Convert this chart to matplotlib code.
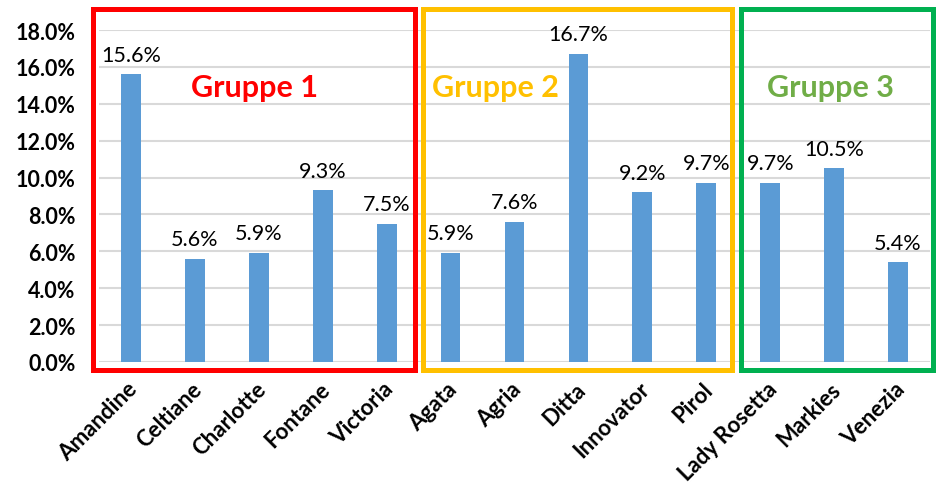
import numpy as np
import matplotlib.pyplot as plt
from matplotlib.patches import Rectangle
from matplotlib.ticker import FuncFormatter
from matplotlib.transforms import ScaledTranslation

plt.rcParams['font.family'] = ['Lato', 'DejaVu Sans']

# Sorten und Anteile (%)
sorten = ['Amandine', 'Celtiane', 'Charlotte', 'Fontane', 'Victoria',
          'Agata', 'Agria', 'Ditta', 'Innovator', 'Pirol',
          'Lady Rosetta', 'Markies', 'Venezia']
anteile = [15.6, 5.6, 5.9, 9.3, 7.5,
           5.9, 7.6, 16.7, 9.2, 9.7,
           9.7, 10.5, 5.4]

gruppen = ['Gruppe 1', 'Gruppe 2', 'Gruppe 3']
gruppen_farbe = ['#FF0000', '#FFC000', '#00B050']
gruppen_text = ['#FF0000', '#FFC000', '#70AD47']

W, H = 941, 485
fig = plt.figure(figsize=(W / 100, H / 100), dpi=100)


def fx(px):
    return px / W


def fy(py):
    return 1 - py / H


ax = fig.add_axes([fx(99), fy(363), fx(930) - fx(99), fy(31) - fy(363)])

x = np.arange(len(sorten))
ax.bar(x, anteile, width=0.31, color='#5B9BD5', zorder=3)
for xi, v in zip(x, anteile):
    ax.annotate(f'{v:.1f}%', (xi, v), xytext=(0, 7), textcoords='offset points',
                ha='center', va='bottom', fontsize=15.5, color='black')

ax.set_xlim(-0.5, len(sorten) - 0.5)
ax.set_ylim(0, 18)
ax.set_yticks(np.arange(0, 19, 2))
ax.yaxis.set_major_formatter(FuncFormatter(lambda v, p: f'{v:.1f}%'))
ax.grid(axis='y', color='#D9D9D9', linewidth=1.5, zorder=0)
for s in ax.spines.values():
    s.set_visible(False)
ax.tick_params(axis='both', length=0)
ax.tick_params(axis='y', labelsize=15.5, pad=17)
for t in ax.get_yticklabels():
    t.set_fontweight('bold')
ax.set_xticks(x)
ax.set_xticklabels(sorten, rotation=45, ha='right', rotation_mode='anchor',
                   fontsize=16, fontweight='bold')
ax.tick_params(axis='x', pad=11.5)
verschub = ScaledTranslation(-4 / 100, 0, fig.dpi_scale_trans)
for t in ax.get_xticklabels():
    t.set_transform(t.get_transform() + verschub)

# Gruppenrahmen (Pixelkoordinaten der Abbildung)
rahmen = [(92.5, 415), (423, 732), (741, 933)]
for (l, r), c in zip(rahmen, gruppen_farbe):
    fig.patches.append(Rectangle((fx(l), fy(371)), fx(r) - fx(l), fy(10) - fy(371),
                                 transform=fig.transFigure, fill=False,
                                 edgecolor=c, linewidth=3.6, zorder=5))

label_x = [255, 495, 830]
for name, lx, c in zip(gruppen, label_x, gruppen_text):
    fig.text(fx(lx), fy(88), name, ha='center', va='center', fontsize=22,
             fontweight='bold', color=c)

fig.savefig('out.png', dpi=100)
